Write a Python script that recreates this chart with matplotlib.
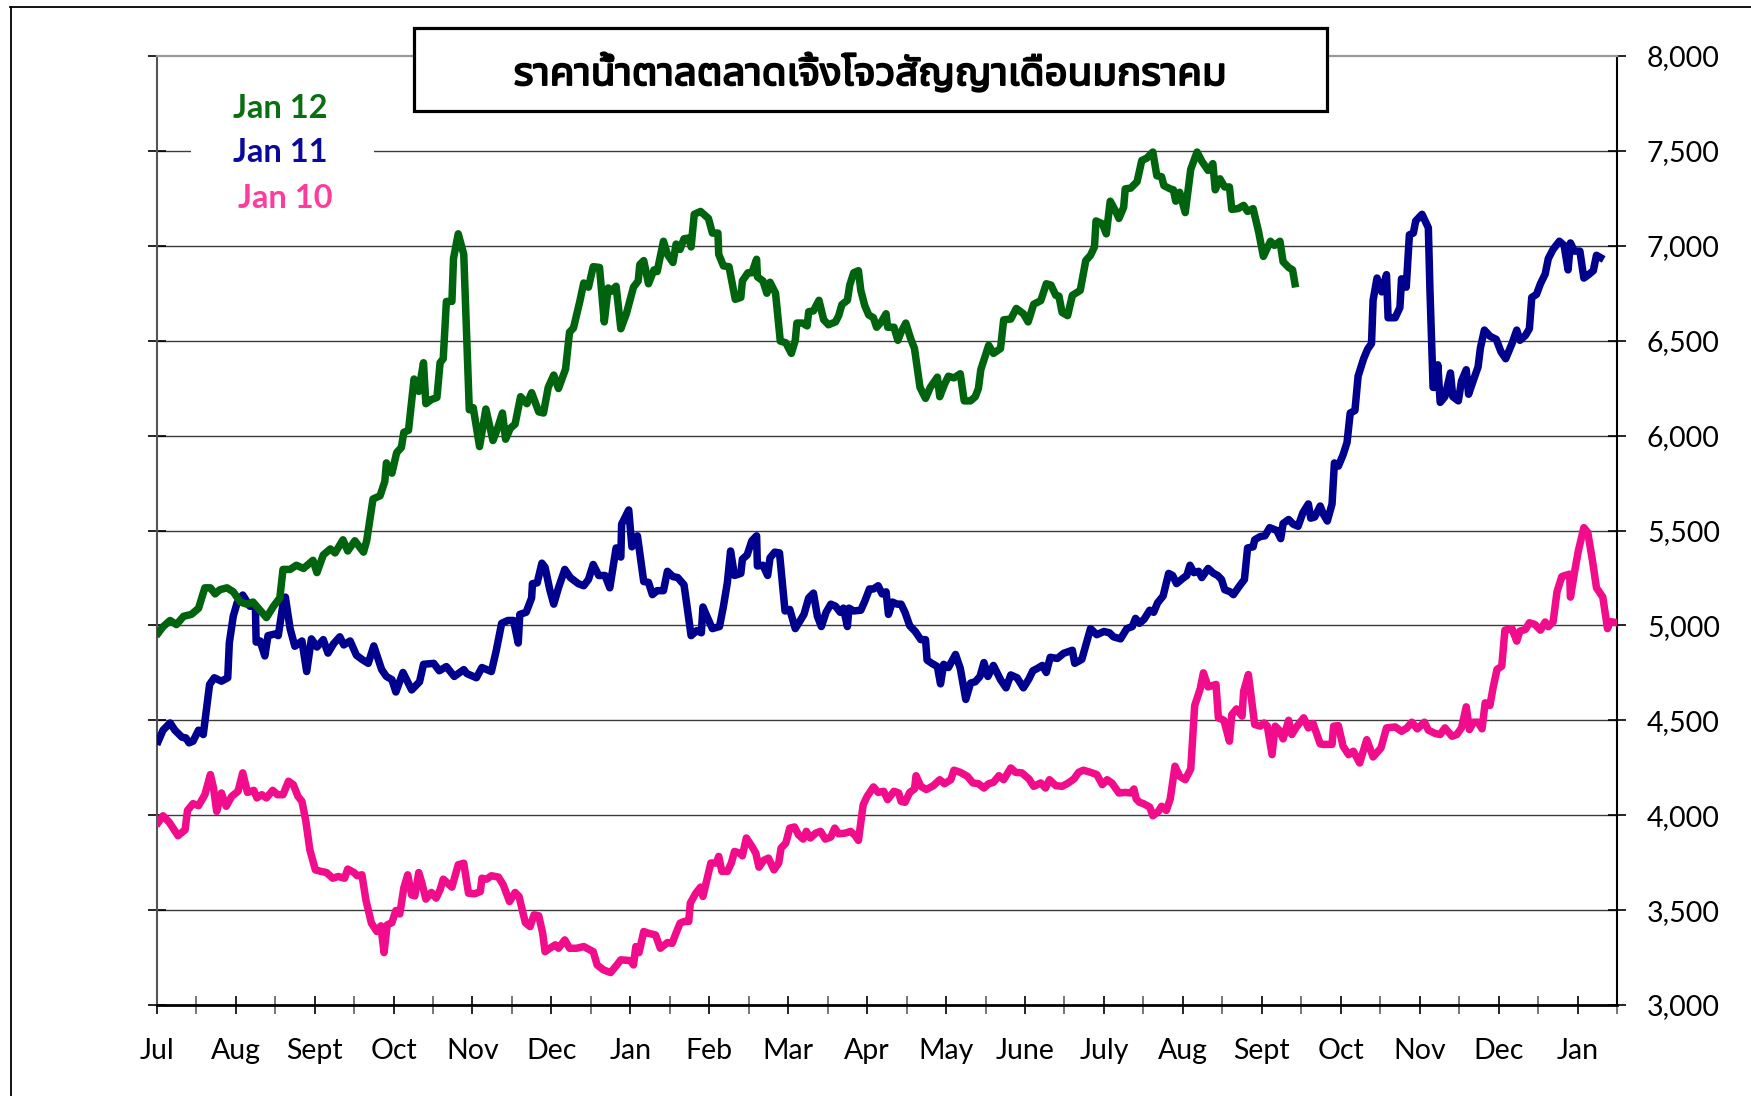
import matplotlib
matplotlib.use("Agg")
import matplotlib.pyplot as plt
import matplotlib.patheffects as pe
from matplotlib import font_manager
from matplotlib.ft2font import FT2Font
from matplotlib.patches import Rectangle
from matplotlib.lines import Line2D
from matplotlib.ticker import FuncFormatter
import numpy as np

W, H = 1751, 1096

title = "ราคาน้ำตาลตลาดเจิ้งโจวสัญญาเดือนมกราคม"
months = ["Jul", "Aug", "Sept", "Oct", "Nov", "Dec", "Jan", "Feb", "Mar", "Apr",
          "May", "June", "July", "Aug", "Sept", "Oct", "Nov", "Dec", "Jan"]
y_ticks = [3000, 3500, 4000, 4500, 5000, 5500, 6000, 6500, 7000, 7500, 8000]
series_names = ["Jan 12", "Jan 11", "Jan 10"]

# x positions are in months from the start of July (first year)
jan12_pos = [
    0.02, 0.08, 0.17, 0.25, 0.34, 0.44, 0.53, 0.61, 0.68, 0.74,
    0.80, 0.89, 0.97, 1.06, 1.14, 1.22, 1.31, 1.39, 1.48, 1.56,
    1.60, 1.69, 1.77, 1.86, 1.98, 2.03, 2.11, 2.20, 2.26, 2.36,
    2.42, 2.51, 2.62, 2.66, 2.74, 2.83, 2.89, 2.91, 2.98, 3.04,
    3.10, 3.13, 3.19, 3.26, 3.32, 3.38, 3.41, 3.48, 3.55, 3.59,
    3.63, 3.67, 3.74, 3.76, 3.82, 3.89, 3.96, 4.01, 4.09, 4.17,
    4.26, 4.31, 4.38, 4.42, 4.48, 4.54, 4.61, 4.69, 4.75, 4.84,
    4.90, 4.96, 5.03, 5.09, 5.18, 5.23, 5.28, 5.36, 5.41, 5.47,
    5.53, 5.61, 5.67, 5.72, 5.76, 5.82, 5.88, 5.95, 6.04, 6.10,
    6.12, 6.17,
    6.23, 6.30, 6.34, 6.42, 6.47, 6.54, 6.58, 6.63, 6.68, 6.74,
    6.77, 6.81, 6.89, 6.99, 7.04, 7.11, 7.12, 7.18, 7.25, 7.33,
    7.40, 7.42, 7.49, 7.54, 7.60, 7.61, 7.68, 7.73, 7.77, 7.84,
    7.90, 7.97, 8.04, 8.09, 8.11, 8.18, 8.24, 8.26, 8.32, 8.39,
    8.45, 8.51, 8.60, 8.64, 8.68, 8.75, 8.78, 8.83, 8.89, 8.92,
    8.97, 9.02, 9.08, 9.12, 9.18, 9.24, 9.26, 9.34, 9.39, 9.43,
    9.49, 9.55, 9.60, 9.67, 9.74, 9.80, 9.89, 9.92, 9.98, 10.03,
    10.10, 10.18, 10.23, 10.31, 10.37, 10.41, 10.44, 10.54, 10.60, 10.69,
    10.73, 10.82, 10.89, 10.98, 11.04, 11.11, 11.20, 11.27, 11.33, 11.39,
    11.43, 11.47, 11.54, 11.60, 11.70, 11.77, 11.83, 11.88, 11.90, 11.98,
    12.03, 12.08, 12.15, 12.19, 12.25, 12.27, 12.34, 12.42,
    12.48, 12.54, 12.62, 12.67, 12.73, 12.76, 12.84, 12.88, 12.91, 12.96,
    13.03, 13.10, 13.18, 13.24, 13.32, 13.38, 13.41, 13.47, 13.53, 13.59,
    13.62, 13.70, 13.77, 13.82, 13.89, 13.96, 14.02, 14.11, 14.16, 14.23,
    14.27, 14.34, 14.39, 14.42,
]
jan12_val = [
    4960, 4993, 5026, 5004, 5048, 5058, 5090, 5198, 5198, 5166,
    5188, 5198, 5177, 5123, 5112, 5123, 5080, 5041, 5101, 5145,
    5295, 5295, 5317, 5300, 5343, 5278, 5371, 5403, 5382, 5451,
    5392, 5446, 5386, 5446, 5666, 5683, 5759, 5856, 5802, 5910,
    5938, 6017, 6028, 6298, 6233, 6384, 6168, 6190, 6201, 6384,
    6405, 6707, 6707, 6933, 7063, 6955, 6136, 6147, 5942, 6140,
    5974, 6028, 6119, 5981, 6039, 6060, 6205, 6168, 6226, 6125,
    6119, 6254, 6319, 6248, 6351, 6545, 6567, 6707, 6804, 6782,
    6890, 6886, 6599, 6778, 6761, 6787, 6563, 6642, 6782, 6815,
    6901, 6922,
    6800, 6873, 6864, 7024, 6955, 6912, 7009, 6981, 7037, 7041,
    6994, 7166, 7181, 7144, 7067, 7067, 6955, 6894, 6890, 6718,
    6728, 6815, 6858, 6858, 6929, 6836, 6815, 6750, 6808, 6750,
    6498, 6489, 6433, 6502, 6593, 6593, 6578, 6653, 6657, 6713,
    6610, 6584, 6599, 6632, 6690, 6713, 6793, 6858, 6869, 6765,
    6685, 6636, 6621, 6571, 6599, 6642, 6571, 6571, 6502, 6545,
    6593, 6513, 6459, 6254, 6196, 6254, 6308, 6205, 6270, 6313,
    6304, 6326, 6183, 6183, 6205, 6248, 6347, 6476, 6433, 6459,
    6610, 6614, 6670, 6642, 6599, 6692, 6711, 6800, 6793, 6739,
    6735, 6649, 6632, 6739, 6765, 6922, 6950, 6994, 7131, 7116,
    7063, 7235, 7181, 7144, 7203, 7300, 7304, 7338,
    7450, 7461, 7494, 7369, 7364, 7317, 7300, 7295, 7235, 7282,
    7175, 7403, 7494, 7446, 7397, 7433, 7295, 7353, 7310, 7310,
    7192, 7196, 7213, 7181, 7196, 7073, 6944, 7024, 7002, 7024,
    6916, 6886, 6873, 6800,
]

jan11_pos = [
    0.02, 0.08, 0.17, 0.23, 0.32, 0.37, 0.41, 0.46, 0.53, 0.59,
    0.67, 0.73, 0.82, 0.90, 0.92, 0.97, 1.02, 1.09, 1.18, 1.25,
    1.26, 1.31, 1.37, 1.41, 1.50, 1.54, 1.60, 1.63, 1.69, 1.75,
    1.84, 1.90, 1.96, 2.03, 2.11, 2.17, 2.24, 2.32, 2.37, 2.45,
    2.53, 2.60, 2.68, 2.75, 2.85, 2.91, 2.98, 3.03, 3.12, 3.23,
    3.33, 3.38, 3.51, 3.58, 3.67, 3.77, 3.89, 3.93, 4.05, 4.12,
    4.24, 4.30, 4.37, 4.45, 4.52, 4.58, 4.60, 4.68, 4.75, 4.76,
    4.82, 4.88, 4.92, 4.98, 5.03, 5.09, 5.17, 5.24, 5.34, 5.41,
    5.47, 5.53, 5.60, 5.68, 5.74, 5.82, 5.88, 5.89, 5.98, 6.02,
    6.09, 6.17,
    6.23, 6.28, 6.34, 6.42, 6.47, 6.54, 6.60, 6.68, 6.72, 6.77,
    6.84, 6.90, 6.92, 6.97, 7.04, 7.13, 7.18, 7.23, 7.27, 7.32,
    7.40, 7.42, 7.48, 7.54, 7.60, 7.61, 7.68, 7.74, 7.77, 7.83,
    7.89, 7.96, 8.02, 8.09, 8.20, 8.26, 8.32, 8.37, 8.42, 8.48,
    8.54, 8.60, 8.66, 8.70, 8.75, 8.77, 8.83, 8.92, 8.97, 9.03,
    9.08, 9.14, 9.19, 9.24, 9.27, 9.32, 9.38, 9.43, 9.48, 9.54,
    9.61, 9.68, 9.74, 9.76, 9.82, 9.89, 9.93, 9.97, 10.03, 10.12,
    10.18, 10.25, 10.31, 10.37, 10.43, 10.48, 10.53, 10.60, 10.69, 10.76,
    10.82, 10.90, 10.98, 11.05, 11.10, 11.16, 11.22, 11.27, 11.32, 11.41,
    11.49, 11.60, 11.63, 11.72, 11.83, 11.91, 12.00, 12.07, 12.12, 12.21,
    12.29, 12.36, 12.40,
    12.45, 12.51, 12.58, 12.63, 12.68, 12.75, 12.82, 12.87, 12.92, 13.00,
    13.05, 13.09, 13.14, 13.20, 13.24, 13.32, 13.39, 13.44, 13.49, 13.53,
    13.60, 13.64, 13.72, 13.78, 13.82, 13.89, 13.91, 13.98, 14.04, 14.10,
    14.19, 14.24, 14.27, 14.34, 14.40, 14.46, 14.52, 14.59, 14.62, 14.67,
    14.74, 14.78, 14.83, 14.89, 14.92, 14.97, 15.03, 15.08, 15.12, 15.18,
    15.22, 15.29, 15.34, 15.39, 15.41, 15.46, 15.52, 15.58, 15.60, 15.69,
    15.75, 15.77, 15.83, 15.87, 15.92, 15.95, 16.03, 16.11, 16.13, 16.17,
    16.20, 16.23, 16.26, 16.32, 16.39, 16.42, 16.49, 16.53, 16.59, 16.62,
    16.68, 16.74, 16.77, 16.82, 16.89, 16.97, 17.03, 17.09, 17.17, 17.23,
    17.27, 17.34, 17.39, 17.42, 17.48, 17.53, 17.59, 17.63, 17.69, 17.77,
    17.83, 17.88, 17.91, 17.96, 18.03, 18.08, 18.14, 18.20, 18.24, 18.29,
]
jan11_val = [
    4390, 4448, 4486, 4448, 4411, 4407, 4381, 4390, 4448, 4425,
    4689, 4724, 4706, 4724, 4908, 5049, 5120, 5160, 5101, 5101,
    4912, 4918, 4839, 4946, 4955, 4946, 5112, 5149, 4983, 4890,
    4918, 4757, 4929, 4886, 4925, 4854, 4903, 4940, 4897, 4918,
    4843, 4821, 4800, 4892, 4767, 4731, 4714, 4649, 4752, 4660,
    4703, 4795, 4800, 4761, 4783, 4731, 4767, 4746, 4724, 4778,
    4757, 4864, 5011, 5026, 5026, 4907, 5058, 5069, 5145, 5220,
    5224, 5328, 5306, 5188, 5112, 5198, 5295, 5252, 5220, 5209,
    5242, 5321, 5263, 5263, 5198, 5408, 5360, 5533, 5608, 5414,
    5472, 5231,
    5227, 5162, 5183, 5183, 5285, 5257, 5252, 5214, 5097, 4946,
    4972, 4961, 5097, 5048, 4983, 4994, 5101, 5227, 5392, 5263,
    5274, 5349, 5371, 5446, 5472, 5313, 5317, 5263, 5356, 5386,
    5382, 5076, 5084, 4983, 5058, 5145, 5170, 5048, 4994, 5069,
    5112, 5101, 5069, 5091, 4994, 5091, 5076, 5080, 5127, 5192,
    5192, 5209, 5166, 5177, 5058, 5123, 5112, 5112, 5069, 4998,
    4968, 4925, 4925, 4817, 4800, 4783, 4692, 4795, 4778, 4847,
    4774, 4610, 4696, 4703, 4731, 4804, 4731, 4789, 4714, 4671,
    4739, 4724, 4671, 4718, 4761, 4774, 4789, 4752, 4832, 4826,
    4853, 4869, 4800, 4821, 4983, 4951, 4968, 4961, 4940, 4929,
    4983, 4994, 5037,
    5011, 5033, 5080, 5069, 5119, 5155, 5274, 5263, 5220, 5248,
    5263, 5317, 5278, 5285, 5252, 5300, 5274, 5263, 5242, 5188,
    5177, 5162, 5209, 5242, 5408, 5414, 5451, 5468, 5472, 5515,
    5500, 5457, 5537, 5558, 5533, 5522, 5593, 5640, 5565, 5571,
    5629, 5586, 5550, 5640, 5856, 5839, 5899, 5964, 6119, 6132,
    6313, 6405, 6455, 6485, 6713, 6830, 6757, 6848, 6621, 6621,
    6675, 6826, 6782, 7058, 7067, 7131, 7166, 7095, 6772, 6254,
    6254, 6373, 6175, 6205, 6330, 6205, 6183, 6287, 6347, 6218,
    6291, 6362, 6463, 6556, 6524, 6507, 6442, 6405, 6485, 6556,
    6502, 6528, 6563, 6728, 6744, 6800, 6851, 6933, 6981, 7024,
    7002, 6873, 7015, 6972, 6972, 6830, 6848, 6869, 6950, 6938,
]

jan10_pos = [
    0.02, 0.08, 0.16, 0.27, 0.36, 0.39, 0.46, 0.53, 0.61, 0.68,
    0.72, 0.76, 0.82, 0.88, 0.95, 1.03, 1.09, 1.15, 1.23, 1.27,
    1.33, 1.39, 1.47, 1.53, 1.60, 1.67, 1.73, 1.79, 1.84, 1.89,
    1.94, 2.01, 2.08, 2.15, 2.23, 2.30, 2.38, 2.42, 2.50, 2.54,
    2.60, 2.65, 2.72, 2.79, 2.84, 2.88, 2.92, 2.98, 3.03, 3.08,
    3.13, 3.18, 3.23, 3.27, 3.32, 3.36, 3.41, 3.48, 3.54, 3.59,
    3.63, 3.74, 3.82, 3.89, 3.95, 4.03, 4.10, 4.12, 4.18, 4.24,
    4.33, 4.39, 4.47, 4.54, 4.59, 4.67, 4.73, 4.78, 4.84, 4.89,
    4.92, 4.98, 5.05, 5.09, 5.17, 5.23, 5.32, 5.41, 5.53, 5.58,
    5.66, 5.75, 5.82, 5.88, 6.00, 6.04, 6.07, 6.11, 6.17,
    6.23, 6.32, 6.38, 6.47, 6.53, 6.57, 6.63, 6.68, 6.74, 6.76,
    6.83, 6.89, 6.92, 6.97, 7.02, 7.09, 7.12, 7.16, 7.23, 7.28,
    7.32, 7.39, 7.42, 7.47, 7.54, 7.59, 7.63, 7.69, 7.75, 7.82,
    7.88, 7.91, 7.97, 8.02, 8.08, 8.13, 8.19, 8.23, 8.28, 8.35,
    8.41, 8.47, 8.54, 8.59, 8.64, 8.73, 8.79, 8.85, 8.89, 8.95,
    9.00, 9.08, 9.14, 9.21, 9.26, 9.34, 9.40, 9.43, 9.48, 9.54,
    9.60, 9.62, 9.68, 9.75, 9.84, 9.92, 9.98, 10.06, 10.10, 10.18,
    10.27, 10.34, 10.41, 10.48, 10.54, 10.60, 10.67, 10.73, 10.82, 10.88,
    10.96, 11.05, 11.11, 11.20, 11.26, 11.31, 11.39, 11.47, 11.55, 11.62,
    11.68, 11.74, 11.83, 11.91, 11.98, 12.04, 12.10, 12.19, 12.27, 12.34,
    12.38, 12.41, 12.45,
    12.50, 12.58, 12.62, 12.69, 12.73, 12.79, 12.84, 12.90, 12.96, 13.03,
    13.10, 13.15, 13.22, 13.26, 13.32, 13.42, 13.45, 13.52, 13.59, 13.62,
    13.68, 13.75, 13.77, 13.83, 13.91, 13.98, 14.03, 14.07, 14.13, 14.17,
    14.22, 14.27, 14.34, 14.38, 14.44, 14.53, 14.59, 14.65, 14.74, 14.78,
    14.89, 14.91, 14.97, 15.03, 15.10, 15.16, 15.24, 15.33, 15.41, 15.51,
    15.58, 15.69, 15.77, 15.84, 15.90, 15.97, 16.06, 16.11, 16.20, 16.26,
    16.32, 16.41, 16.47, 16.53, 16.59, 16.63, 16.68, 16.74, 16.79, 16.83,
    16.89, 16.93, 16.98, 17.04, 17.08, 17.17, 17.23, 17.27, 17.34, 17.39,
    17.46, 17.53, 17.59, 17.63, 17.69, 17.74, 17.80, 17.84, 17.90, 17.91,
    17.97, 18.01, 18.08, 18.13, 18.19, 18.24, 18.32, 18.38, 18.41, 18.49,
]
jan10_val = [
    3962, 3997, 3962, 3892, 3923, 4025, 4061, 4050, 4108, 4214,
    4143, 4020, 4117, 4047, 4099, 4126, 4223, 4120, 4131, 4091,
    4108, 4091, 4131, 4108, 4108, 4179, 4161, 4099, 4073, 3967,
    3818, 3712, 3704, 3698, 3668, 3677, 3668, 3716, 3698, 3681,
    3686, 3554, 3431, 3387, 3417, 3276, 3422, 3434, 3498, 3480,
    3616, 3686, 3580, 3575, 3698, 3642, 3558, 3593, 3563, 3607,
    3663, 3621, 3739, 3747, 3589, 3586, 3598, 3668, 3663, 3681,
    3674, 3633, 3545, 3593, 3572, 3434, 3413, 3475, 3470, 3378,
    3281, 3299, 3317, 3299, 3343, 3299, 3299, 3308, 3281, 3211,
    3185, 3171, 3206, 3238, 3234, 3211, 3308, 3276, 3387,
    3378, 3369, 3299, 3329, 3325, 3369, 3431, 3440, 3440, 3537,
    3589, 3621, 3572, 3660, 3748, 3748, 3783, 3704, 3704, 3748,
    3809, 3800, 3786, 3880, 3836, 3800, 3726, 3762, 3774, 3712,
    3748, 3827, 3853, 3932, 3938, 3897, 3874, 3915, 3880, 3906,
    3915, 3874, 3885, 3932, 3902, 3906, 3915, 3892, 3867, 4055,
    4099, 4149, 4120, 4126, 4082, 4126, 4117, 4073, 4068, 4120,
    4138, 4208, 4152, 4135, 4156, 4187, 4166, 4187, 4237, 4226,
    4205, 4170, 4166, 4143, 4166, 4173, 4208, 4187, 4249, 4226,
    4223, 4191, 4152, 4170, 4143, 4187, 4156, 4152, 4170, 4191,
    4226, 4237, 4226, 4214, 4161, 4187, 4170, 4117, 4120, 4117,
    4138, 4085, 4068,
    4061, 4043, 3997, 4020, 4047, 4025, 4085, 4258, 4205, 4187,
    4244, 4578, 4666, 4750, 4676, 4689, 4513, 4500, 4390, 4530,
    4560, 4522, 4653, 4741, 4478, 4469, 4486, 4469, 4319, 4469,
    4448, 4402, 4500, 4425, 4465, 4513, 4460, 4483, 4376, 4373,
    4373, 4469, 4472, 4363, 4319, 4337, 4275, 4398, 4307, 4354,
    4460, 4465, 4442, 4460, 4490, 4455, 4490, 4448, 4430, 4425,
    4460, 4416, 4425, 4460, 4571, 4451, 4490, 4490, 4455, 4592,
    4578, 4671, 4768, 4785, 4975, 4982, 4917, 4970, 4979, 5014,
    5005, 4975, 5018, 4993, 5018, 5177, 5257, 5263, 5270, 5149,
    5300, 5392, 5515, 5489, 5339, 5198, 5149, 4983, 5020, 5015,
]

line_colors = ["#00640F", "#00008E", "#F00C8A"]
label_colors = ["#0A6E12", "#0A0A9A", "#FF3C9C"]


def thai_family():
    # pick an installed font that has Thai glyphs, loopless sans first
    found = []
    for f in font_manager.fontManager.ttflist:
        try:
            if 0x0E32 in FT2Font(f.fname).get_charmap():
                found.append(f.name)
        except Exception:
            continue
    if not found:
        return None
    for key in ("Noto Sans Thai", "Sans Thai", "Thai", "Sans"):
        for name in found:
            if key in name and "Looped" not in name:
                return name
    return found[0]


plt.rcParams["font.family"] = ["Lato", "DejaVu Sans"]
thai = thai_family()
title_family = [thai, "DejaVu Sans"] if thai else ["DejaVu Sans"]

fig = plt.figure(figsize=(W / 100, H / 100), dpi=100)
ax = fig.add_axes([156.7 / W, 1 - 1005 / H, (1617 - 156.7) / W, (1005 - 56) / H])

for v in y_ticks[1:-1]:
    ax.axhline(v, color="#3c3c3c", lw=1.0, zorder=1)

ax.plot(jan10_pos, jan10_val, color=line_colors[2], lw=5.4, zorder=3)
ax.plot(jan11_pos, jan11_val, color=line_colors[1], lw=5.4, zorder=3)
ax.plot(jan12_pos, jan12_val, color=line_colors[0], lw=5.4, zorder=3)

ax.set_xlim(0, 18.5)
ax.set_ylim(y_ticks[0], y_ticks[-1])

ax.set_xticks(range(len(months)))
ax.set_xticklabels(months)
ax.set_xticks(np.arange(0.5, 18.51, 1.0), minor=True)
ax.tick_params(axis="x", which="both", direction="inout", length=13, width=1.2,
               pad=17, labelsize=20.5, colors="black")
ax.tick_params(axis="x", which="minor", color="#606060")

ax.set_yticks(y_ticks)
ax.yaxis.set_major_formatter(FuncFormatter(lambda v, p: f"{int(v):,}"))
ax.tick_params(axis="y", left=True, right=True, labelleft=False, labelright=True,
               direction="inout", length=13, width=1.2, pad=15, labelsize=20.5)

ax.spines["top"].set_color("#9a9a9a")
ax.spines["top"].set_linewidth(1.6)
ax.spines["left"].set_color("#555555")
ax.spines["left"].set_linewidth(1.5)
ax.spines["right"].set_color("black")
ax.spines["right"].set_linewidth(1.5)
ax.spines["bottom"].set_color("black")
ax.spines["bottom"].set_linewidth(2.0)

# outer chart border (only left and top edges are inside the image)
fig.add_artist(Line2D([10.5 / W, 10.5 / W], [0, 1 - 6.5 / H], transform=fig.transFigure,
                      color="black", lw=1.3))
fig.add_artist(Line2D([10 / W, 1], [1 - 6.5 / H, 1 - 6.5 / H], transform=fig.transFigure,
                      color="black", lw=1.3))

# title box
fig.add_artist(Rectangle((414 / W, 1 - 111 / H), (1327 - 414) / W, (111 - 28) / H,
                         transform=fig.transFigure, facecolor="white", edgecolor="black",
                         lw=2.3, zorder=5))
fig.text(870 / W, 1 - 74 / H, title, ha="center", va="center", fontsize=29,
         fontweight="bold", family=title_family, zorder=6,
         path_effects=[pe.withStroke(linewidth=1.4, foreground="black")])

# legend area
fig.add_artist(Rectangle((191 / W, 1 - 215 / H), (374 - 191) / W, (215 - 70) / H,
                         transform=fig.transFigure, facecolor="white", edgecolor="none",
                         zorder=4))
legend_xy = [(233, 108), (233, 153), (238, 198)]
for name, col, (lx, ly) in zip(series_names, label_colors, legend_xy):
    fig.text(lx / W, 1 - ly / H, name, ha="left", va="center", fontsize=23.5,
             fontweight="bold", color=col, zorder=6)

fig.savefig("out.png", dpi=100)
